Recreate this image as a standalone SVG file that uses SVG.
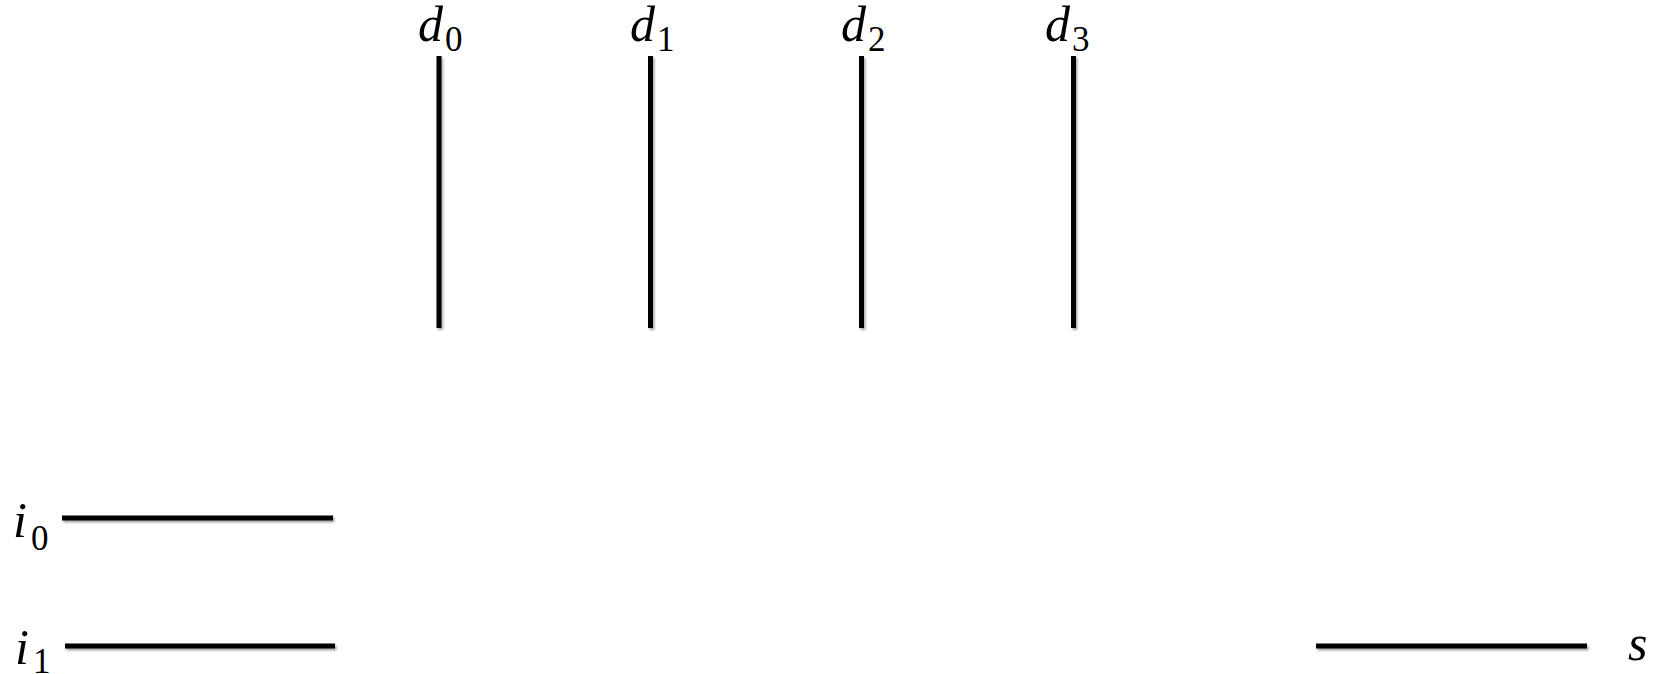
<svg xmlns="http://www.w3.org/2000/svg" width="1665" height="674" viewBox="0 0 1665 674">
<defs>
<filter id="sh" filterUnits="userSpaceOnUse" x="0" y="0" width="1665" height="674">
<feDropShadow dx="1.5" dy="2" stdDeviation="1.2" flood-color="#000" flood-opacity="0.35"/>
</filter>
</defs>
<style>
.wire{stroke:#000;stroke-width:5;fill:none}
.v{font-family:"Liberation Serif","Times New Roman",serif;font-style:italic;font-size:50px;fill:#000}
.sub{font-style:normal;font-size:35px}
</style>
<rect width="1665" height="674" fill="#fff"/>
<g id="connectors" filter="url(#sh)">
<line id="w_d0" class="wire" x1="439" y1="56" x2="439" y2="328"/>
<line id="w_d1" class="wire" x1="650.5" y1="56" x2="650.5" y2="328"/>
<line id="w_d2" class="wire" x1="861.5" y1="56" x2="861.5" y2="328"/>
<line id="w_d3" class="wire" x1="1073.5" y1="56" x2="1073.5" y2="328"/>
<line id="w_i0" class="wire" x1="62" y1="518" x2="333" y2="518"/>
<line id="w_i1" class="wire" x1="65" y1="646" x2="335" y2="646"/>
<line id="w_s" class="wire" x1="1316" y1="646" x2="1587" y2="646"/>
</g>
<g id="d0"><text class="v" x="418" y="41">d<tspan class="sub" x="445" y="51">0</tspan></text></g>
<g id="d1"><text class="v" x="630" y="41">d<tspan class="sub" x="657" y="51">1</tspan></text></g>
<g id="d2"><text class="v" x="841" y="41">d<tspan class="sub" x="868" y="51">2</tspan></text></g>
<g id="d3"><text class="v" x="1045" y="41">d<tspan class="sub" x="1072" y="51">3</tspan></text></g>
<g id="i0"><text class="v" x="13" y="537">i<tspan class="sub" x="31" y="550">0</tspan></text></g>
<g id="i1"><text class="v" x="15" y="664">i<tspan class="sub" x="33" y="673">1</tspan></text></g>
<g id="s"><text class="v" x="1628" y="660">s</text></g>
</svg>
